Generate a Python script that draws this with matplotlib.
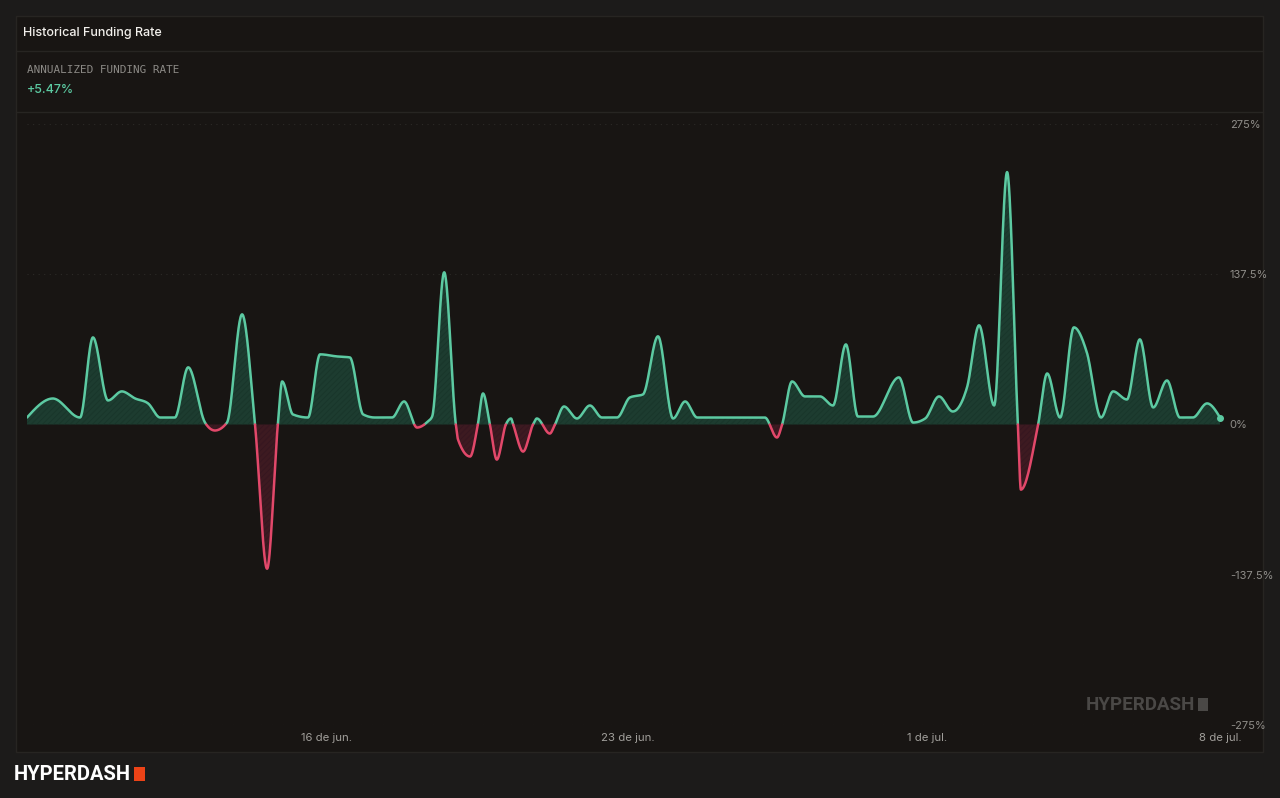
import matplotlib.pyplot as plt
import matplotlib.patches as mpatches
import numpy as np

# funding rate readings (days since start, annualized %)
day = [0.0, 0.60, 1.23, 1.53, 1.88, 2.20, 2.51, 2.81, 3.09, 3.43, 3.74, 4.13, 4.36, 4.64,
       4.99, 5.29, 5.57, 5.82, 5.92, 6.17, 6.52, 6.80, 7.19, 7.49, 7.80, 8.07, 8.47, 8.75,
       9.05, 9.30, 9.40, 9.68, 9.95, 10.0, 10.28, 10.46, 10.58, 10.74, 10.90, 11.11, 11.23,
       11.28, 11.51, 11.74, 11.83, 12.13, 12.25, 12.46, 12.76, 13.06, 13.34, 13.69, 13.99,
       14.29, 14.64, 14.99, 15.27, 15.55, 17.12, 17.40, 17.52, 17.75, 18.05, 18.40, 18.70,
       19.00, 19.28, 19.63, 20.23, 20.56, 20.84, 21.16, 21.48, 21.81, 22.09, 22.44, 22.74,
       22.99, 23.06, 23.46, 23.67, 23.97, 24.29, 24.59, 24.92, 25.20, 25.52, 25.82, 26.13,
       26.45, 26.75, 27.05, 27.38, 27.68]
rate = [6.4, 23.8, 6.4, 79.7, 22.0, 30.3, 23.8, 19.3, 6.4, 6.4, 52.3, 1.8, -5.5, 1.8,
        100.8, 0, -132, 0, 39.4, 9.2, 6.4, 64.2, 62.3, 61.4, 9.2, 6.4, 6.4, 21.1,
        -2.8, 2.8, 7.3, 139.3, 0, -13.7, -29.3, 0, 28.4, 0, -32.1, 0, 5.5,
        0, -24.8, 0, 5.5, -8.3, 0, 16.5, 5.5, 17.4, 6.4, 6.4, 24.8,
        27.5, 80.7, 5.5, 21.1, 6.4, 6.4, -11.9, 0, 39.4, 25.7, 25.7, 17.4,
        73.3, 7.3, 7.3, 43.1, 1.8, 5.5, 25.7, 11.9, 33.9, 90.8, 17.4, 231,
        0, -59.6, 0, 46.7, 6.4, 88.9, 66.0, 6.4, 30.3, 22.9, 77.9, 15.6,
        40.3, 6.4, 6.4, 19.3, 6.4]
tick_days = [6.96, 13.94, 20.88, 27.68]
tick_labels = ["16 de jun.", "23 de jun.", "1 de jul.", "8 de jul."]
y_ticks = [275, 137.5, 0, -137.5, -275]
y_labels = ["275%", "137.5%", "0%", "-137.5%", "-275%"]

GREEN = "#5ccaa2"
RED = "#e2486a"
BG = "#1c1b1a"
PANEL = "#181513"
plt.rcParams['font.family'] = ['Inter', 'DejaVu Sans']
plt.rcParams['hatch.linewidth'] = 0.6


def monotone(x, y, n=30):
    # monotone cubic (like d3 curveMonotoneX) for drawing the line
    x = np.asarray(x, float)
    y = np.asarray(y, float)
    h = np.diff(x)
    s = np.diff(y) / h
    t = np.zeros_like(y)
    for i in range(1, len(x) - 1):
        p = (s[i - 1] * h[i] + s[i] * h[i - 1]) / (h[i - 1] + h[i])
        t[i] = (np.sign(s[i - 1]) + np.sign(s[i])) * min(abs(s[i - 1]), abs(s[i]), 0.5 * abs(p))
    t[0] = (3 * s[0] - t[1]) / 2
    t[-1] = (3 * s[-1] - t[-2]) / 2
    xs, ys = [], []
    for i in range(len(x) - 1):
        u = np.linspace(0, 1, n, endpoint=False)
        h00 = 2 * u**3 - 3 * u**2 + 1
        h10 = u**3 - 2 * u**2 + u
        h01 = -2 * u**3 + 3 * u**2
        h11 = u**3 - u**2
        xs.append(x[i] + u * h[i])
        ys.append(h00 * y[i] + h10 * h[i] * t[i] + h01 * y[i + 1] + h11 * h[i] * t[i + 1])
    xs.append([x[-1]])
    ys.append([y[-1]])
    return np.concatenate(xs), np.concatenate(ys)


xs, ys = monotone(day, rate)

fig = plt.figure(figsize=(12.8, 7.98), dpi=100, facecolor=BG)
W, H = 1280, 798

# panel frame
fig.patches.append(mpatches.Rectangle((16 / W, 1 - 752 / H), 1247 / W, 736 / H, transform=fig.transFigure,
                                      facecolor=PANEL, edgecolor="#272522", linewidth=1, zorder=-5))
for yy in (51, 112):
    fig.lines.append(plt.Line2D([16 / W, 1263 / W], [1 - yy / H] * 2, transform=fig.transFigure,
                                color="#272522", linewidth=1, zorder=-4))

fig.text(23 / W, 1 - 33 / H, "Historical Funding Rate", color="#f2f0ec", fontsize=9,
         fontweight="medium", va="center")
fig.text(27 / W, 1 - 70 / H, "ANNUALIZED FUNDING RATE", color="#8c8a86", fontsize=7.9,
         family="DejaVu Sans Mono", va="center")
fig.text(27 / W, 1 - 90 / H, "+5.47%", color=GREEN, fontsize=9, fontweight="medium", va="center")

# bottom logo
fig.text(14 / W, 1 - 774 / H, "HYPERDASH", color="#ffffff", fontsize=14.5, fontweight="bold",
         va="center", family=["Roboto", "DejaVu Sans"])
fig.patches.append(mpatches.Rectangle((134 / W, 1 - 781 / H), 11 / W, 14 / H, transform=fig.transFigure,
                                      facecolor="#ec4317", edgecolor="none"))

ax = fig.add_axes([27 / W, 1 - 725 / H, 1193 / W, 601 / H])
ax.set_zorder(2)
ax.set_facecolor("none")
ax.set_xlim(day[0], day[-1])
ax.set_ylim(-275, 275)

for v in (275, 137.5, -275):
    ax.axhline(v, color="#2c2a27", linewidth=0.8, linestyle=(0, (1, 4)), zorder=0)

ax.fill_between(xs, ys, 0, where=ys >= 0, interpolate=True, facecolor="#1f4a3a", alpha=0.75,
                edgecolor="#173328", hatch="//////", linewidth=0)
ax.fill_between(xs, ys, 0, where=ys <= 0, interpolate=True, facecolor="#4a1c27", alpha=0.75,
                edgecolor="#331520", hatch="//////", linewidth=0)

ax.plot(xs, np.where(ys >= 0, ys, np.nan), color=GREEN, linewidth=1.8, solid_capstyle="round")
ax.plot(xs, np.where(ys <= 0, ys, np.nan), color=RED, linewidth=1.8, solid_capstyle="round")
ax.plot(day[-1], rate[-1], "o", color=GREEN, markersize=4, clip_on=False)

for s in ax.spines.values():
    s.set_visible(False)
ax.yaxis.tick_right()
ax.set_yticks(y_ticks)
ax.set_yticklabels(y_labels)
ax.set_xticks(tick_days)
ax.set_xticklabels(tick_labels)
ax.tick_params(axis="y", length=0, pad=7, labelsize=8, labelcolor="#8f8d89")
ax.tick_params(axis="x", length=0, pad=6, labelsize=8.2, labelcolor="#a09e9a")

# watermark
fig.text(1086 / W, 1 - 705 / H, "HYPERDASH", color="#4a4846", fontsize=13.5, fontweight="bold",
         va="center", family=["Roboto", "DejaVu Sans"])
fig.patches.append(mpatches.Rectangle((1198 / W, 1 - 711 / H), 10 / W, 13 / H, transform=fig.transFigure,
                                      facecolor="#4a4846", edgecolor="none"))

fig.savefig("out.png", dpi=100, facecolor=BG)
